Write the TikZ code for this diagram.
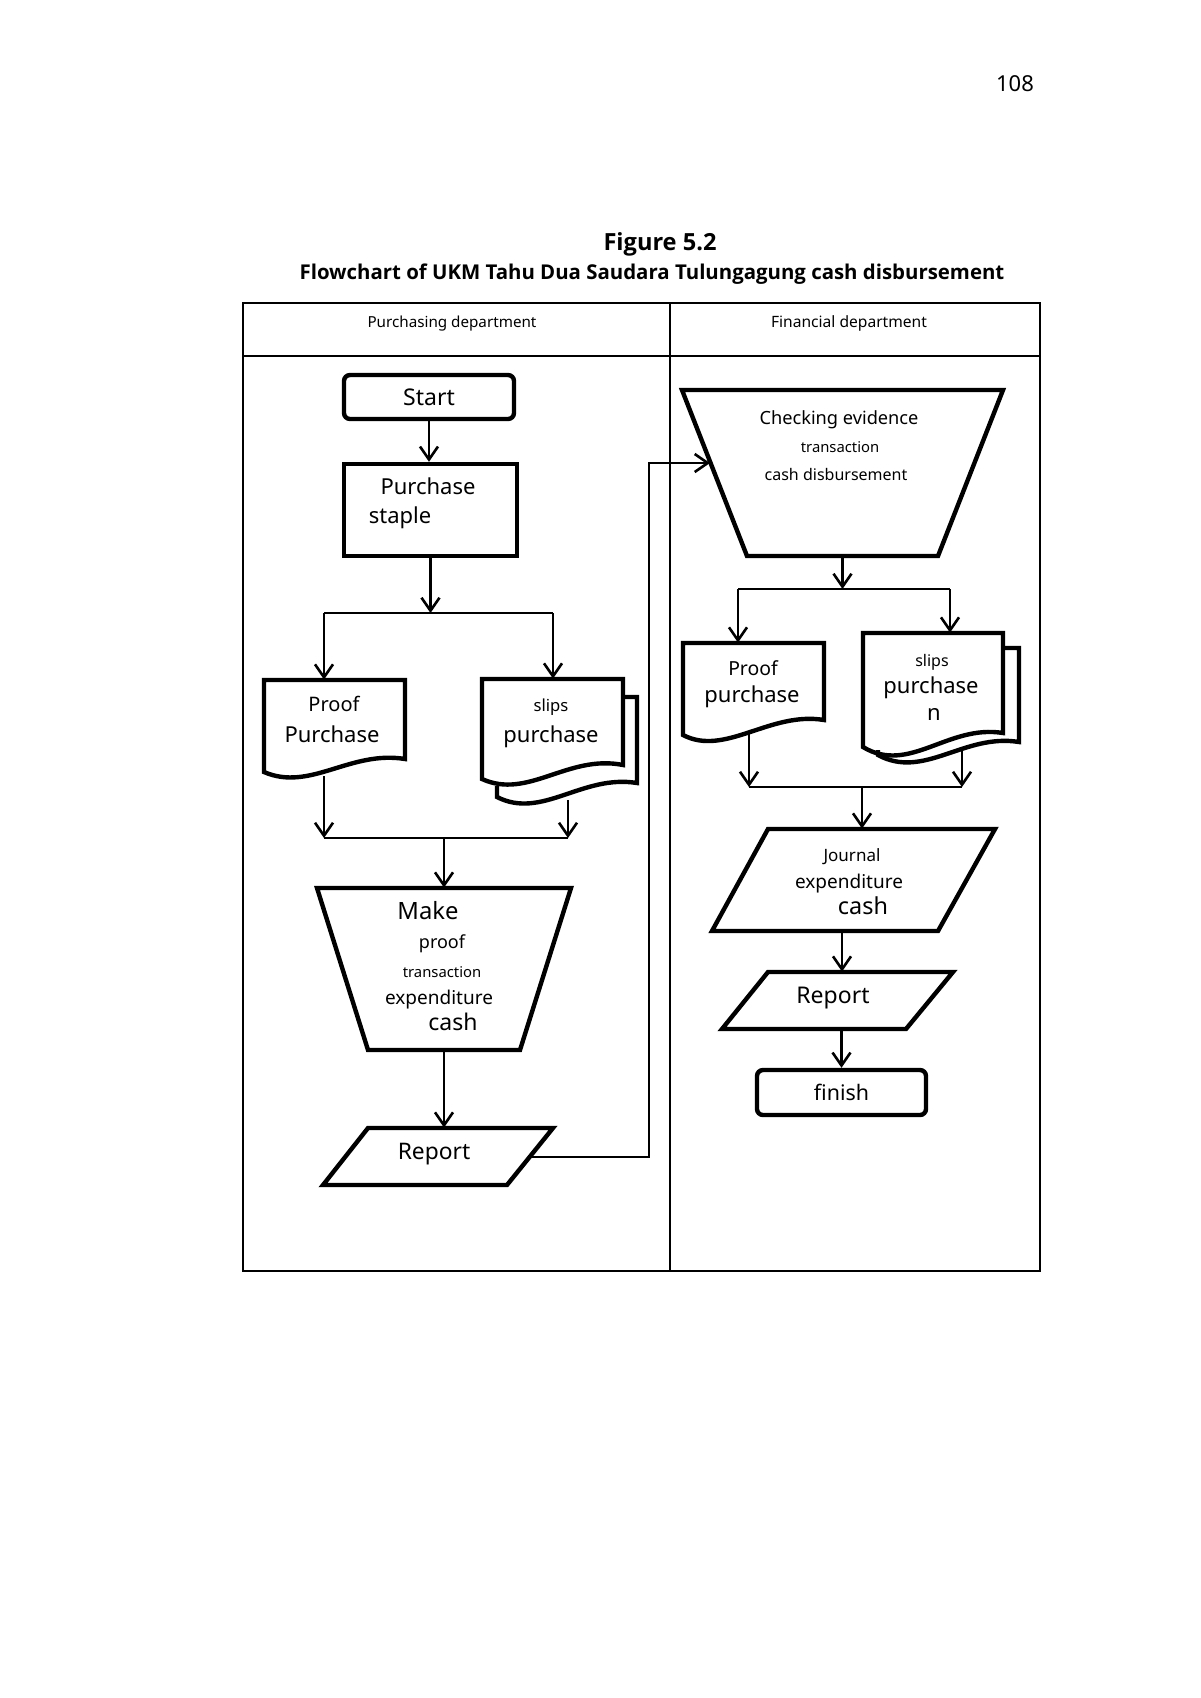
\documentclass[tikz,border=0pt]{standalone}
\usepackage{fontspec}
\setmainfont{Noto Sans}
\newfontfamily\capfont{Open Sans}
\usetikzlibrary{arrows.meta,calc}

\newcommand{\fsz}[1]{\fontsize{#1}{#1}\selectfont}

\begin{document}
\begin{tikzpicture}[x=0.5pt,y=-0.5pt,
    lane/.style={line width=0.9pt},
    blk/.style={line width=2.2pt, line join=miter},
    box/.style={draw=none, inner sep=0pt},
    txt/.style={inner sep=0pt, anchor=center, text height=0.72em, text depth=0pt},
    con/.style={line width=1.3pt, -{Straight Barb[length=6.5pt,width=9pt]}},
    bar/.style={line width=0.85pt}]

    \useasboundingbox (0,0) rectangle (1200,1698);

    % page number and caption
    \node[txt, font=\fsz{11}] (pg) at (1015,84) {108};
    \node[txt, font=\capfont\fsz{11.8}\bfseries] (fig) at (660,243) {Figure 5.2};
    \node[txt, font=\capfont\fsz{10.2}\bfseries] (cap) at (652,272) {Flowchart of UKM Tahu Dua Saudara Tulungagung cash disbursement};

    % swimlanes
    \draw[lane] (243,303) rectangle (1040,1271);
    \draw[lane] (243,356) -- (1040,356);
    \draw[lane] (670,303) -- (670,1271);
    \node[txt, font=\fsz{7.6}] (purdep) at (452,320) {Purchasing department};
    \node[txt, font=\fsz{7.8}] (findep) at (849,320) {Financial department};

    % purchasing department
    \node[draw, blk, rounded corners=3pt, minimum width=85pt, minimum height=22pt, inner sep=0pt, font=\fsz{11.5}] (start) at (429,397) {Start};
    \node[draw, blk, minimum width=86.5pt, minimum height=46pt, inner sep=0pt] (ps) at (430.5,510) {};
    \node[txt, font=\fsz{11}] (ps-a) at (428,487.5) {Purchase};
    \node[txt, font=\fsz{11}] (ps-b) at (400,516) {staple};

    \node[box, minimum width=70.5pt, minimum height=46pt] (pp) at (334.5,726) {};
    \draw[blk] (264,772) -- (264,680) -- (405,680) -- (405,759)
        .. controls (350,750) and (310,792) .. (264,772) -- cycle;
    \node[txt, font=\fsz{10}] (pp-a) at (334,704) {Proof};
    \node[txt, font=\fsz{11}] (pp-b) at (332,735) {Purchase};

    \node[box, minimum width=70.5pt, minimum height=50pt] (sp) at (552.5,729) {};
    \draw[blk] (623,697) -- (637,697) -- (637,783)
        .. controls (582,774) and (542,820) .. (497,797) -- (497,786);
    \draw[blk] (482,779) -- (482,679) -- (623,679) -- (623,765)
        .. controls (568,754) and (528,800) .. (482,779) -- cycle;
    \node[txt, font=\fsz{8.3}] (sp-a) at (551,704) {slips};
    \node[txt, font=\fsz{11}] (sp-b) at (551,735) {purchase};

    \node[box, minimum width=127pt, minimum height=81pt] (mk) at (444,969) {};
    \draw[blk] (317,888) -- (571,888) -- (520,1050) -- (368,1050) -- cycle;
    \node[txt, font=\fsz{11.9}] (mk-a) at (428,912) {Make};
    \node[txt, font=\fsz{9}] (mk-b) at (442,941) {proof};
    \node[txt, font=\fsz{7.4}] (mk-c) at (442,970) {transaction};
    \node[txt, font=\fsz{9.5}] (mk-d) at (439,997) {expenditure};
    \node[txt, font=\fsz{11.5}] (mk-e) at (453,1023) {cash};

    \node[box, minimum width=115pt, minimum height=28.5pt] (rp1) at (438,1156.5) {};
    \draw[blk] (368,1128) -- (553,1128) -- (507,1185) -- (323,1185) -- cycle;
    \node[txt, font=\fsz{11.4}] (rp1-a) at (434,1152) {Report};

    % financial department
    \node[box, minimum width=160.5pt, minimum height=83pt] (ce) at (842.5,473) {};
    \draw[blk] (682,390) -- (1003,390) -- (938,556) -- (747,556) -- cycle;
    \node[txt, font=\fsz{9.1}] (ce-a) at (839,417) {Checking evidence};
    \node[txt, font=\fsz{7.4}] (ce-b) at (840,445) {transaction};
    \node[txt, font=\fsz{8}] (ce-c) at (836,473) {cash disbursement};

    \node[box, minimum width=70.5pt, minimum height=46pt] (pr) at (753.5,689) {};
    \draw[blk] (683,735) -- (683,643) -- (824,643) -- (824,720)
        .. controls (770,711) and (725,757) .. (683,735) -- cycle;
    \node[txt, font=\fsz{9.7}] (pr-a) at (753,668) {Proof};
    \node[txt, font=\fsz{11}] (pr-b) at (752,695) {purchase};

    \node[box, minimum width=70pt, minimum height=57pt] (sr) at (933,690) {};
    \draw[blk] (1003,648) -- (1019,648) -- (1019,742)
        .. controls (964,733) and (924,780) .. (878,755) -- (878,750);
    \draw[blk] (863,747) -- (863,633) -- (1003,633) -- (1003,733)
        .. controls (948,724) and (909,775) .. (863,747) -- cycle;
    \node[txt, font=\fsz{8}] (sr-a) at (932,659) {slips};
    \node[txt, font=\fsz{11}] (sr-b) at (931,686) {purchase};
    \node[txt, font=\fsz{11}] (sr-c) at (934,713) {n};

    \node[box, minimum width=141.5pt, minimum height=51pt] (jn) at (853.5,880) {};
    \draw[blk] (768,829) -- (995,829) -- (938,931) -- (712,931) -- cycle;
    \node[txt, font=\fsz{8.5}] (jn-a) at (852,854) {Journal};
    \node[txt, font=\fsz{9.5}] (jn-b) at (849,881) {expenditure};
    \node[txt, font=\fsz{11.7}] (jn-c) at (863,907) {cash};

    \node[box, minimum width=115.5pt, minimum height=28.5pt] (rp2) at (837.5,1000.5) {};
    \draw[blk] (768,972) -- (953,972) -- (906,1029) -- (722,1029) -- cycle;
    \node[txt, font=\fsz{11.5}] (rp2-a) at (833,996) {Report};

    \node[draw, blk, rounded corners=3pt, minimum width=84.5pt, minimum height=22.5pt, inner sep=0pt, font=\fsz{10.7}] (fin) at (841.5,1092.5) {finish};

    % connectors, purchasing
    \coordinate (lb1) at (324,613);
    \coordinate (lb2) at (553,613);
    \coordinate (pp-o) at (324,776);
    \coordinate (sp-o) at (568,800);
    \coordinate (lm1) at (324,838);
    \coordinate (lm2) at (568,838);
    \draw[con] (start.south) -- (start.south |- ps.north);
    \draw[con] (ps.south) -- (ps.south |- lb1);
    \draw[bar] (lb1) -- (lb2);
    \draw[con] (lb1) -- (lb1 |- pp.north);
    \draw[con] (lb2) -- (lb2 |- sp.north);
    \draw[con] (pp-o) -- (lm1);
    \draw[con] (sp-o) -- (lm2);
    \draw[bar] (lm1) -- (lm2);
    \draw[con] (lm1 -| mk.north) -- (mk.north);
    \draw[con] (mk.south) -- (mk.south |- rp1.north);

    % report goes over to financial
    \coordinate (rp1-o) at (530,1157);
    \coordinate (up) at (649,463);
    \coordinate (ce-i) at (710,463);
    \draw[con] (rp1-o) -| (up) -- (ce-i);

    % connectors, financial
    \coordinate (rb1) at (738,589);
    \coordinate (rb2) at (950,589);
    \coordinate (pr-o) at (749,732);
    \coordinate (sr-o) at (962,748);
    \coordinate (rm1) at (749,787);
    \coordinate (rm2) at (962,787);
    \coordinate (rj) at (862,787);
    \coordinate (jn-o) at (842,931);
    \draw[con] (ce.south) -- (ce.south |- rb1);
    \draw[bar] (rb1) -- (rb2);
    \draw[con] (rb1) -- (rb1 |- pr.north);
    \draw[con] (rb2) -- (rb2 |- sr.north);
    \draw[con] (pr-o) -- (rm1);
    \draw[con] (sr-o) -- (rm2);
    \draw[bar] (rm1) -- (rm2);
    \draw[con] (rj) -- (rj |- jn.north);
    \draw[con] (jn-o) -- (jn-o |- rp2.north);
    \draw[con] (rp2.south -| fin.north) -- (fin.north);
\end{tikzpicture}
\end{document}
